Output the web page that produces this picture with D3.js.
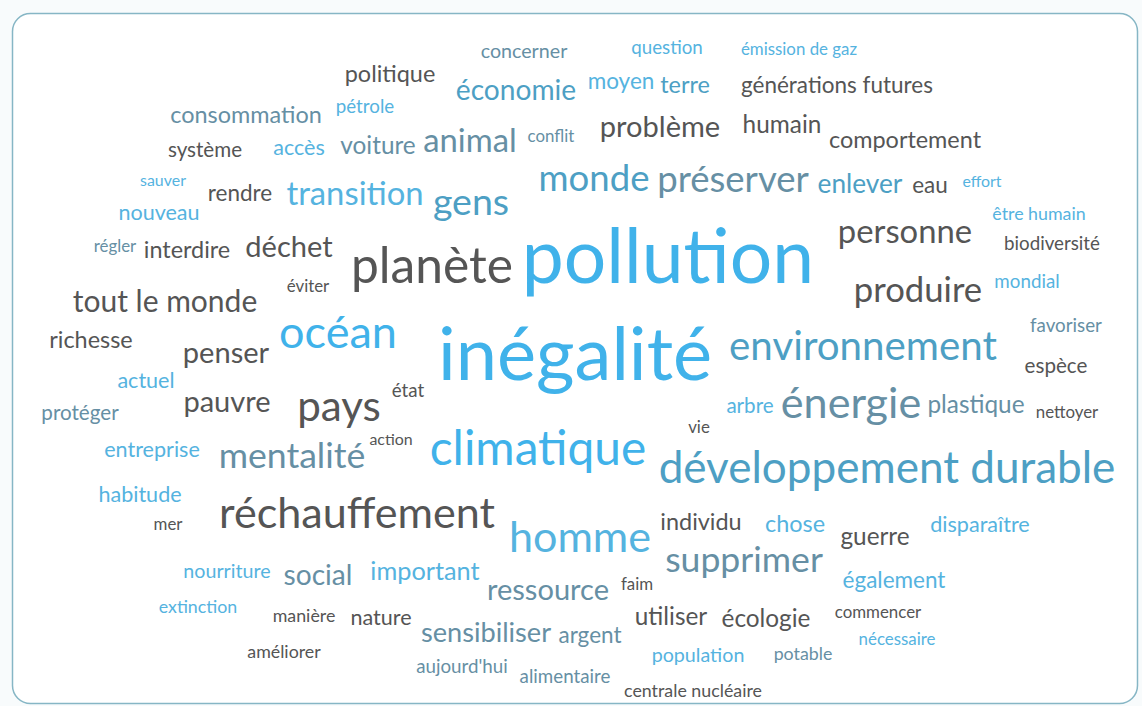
<!DOCTYPE html>
<html>
<head>
<meta charset="utf-8">
<script src="https://cdn.jsdelivr.net/npm/d3@7"></script>
<style>
  body { margin: 0; background: #f8fbfc; }
  #cloud text { font-family: Lato, "Open Sans", sans-serif; }
</style>
</head>
<body>
<div id="cloud"></div>
<script>

// ------------------------------------------------------------------------ //
// DATA
// ------------------------------------------------------------------------ //

// the words, how often they were cited, and their colour group
var words = ["concerner","question","émission de gaz","politique","économie","moyen","terre","générations futures",
  "consommation","pétrole","système","accès","voiture","animal","conflit","problème","humain","comportement",
  "sauver","rendre","transition","gens","monde","préserver","enlever","eau","effort","nouveau","être humain",
  "régler","interdire","déchet","planète","pollution","personne","biodiversité","éviter","tout le monde","produire",
  "mondial","richesse","océan","penser","inégalité","environnement","espèce","favoriser","actuel","pauvre","pays",
  "état","protéger","arbre","énergie","plastique","nettoyer","entreprise","mentalité","action","climatique","vie",
  "développement durable","habitude","mer","réchauffement","homme","individu","chose","guerre","disparaître",
  "nourriture","social","important","ressource","faim","supprimer","également","extinction","manière","nature",
  "sensibiliser","argent","utiliser","écologie","commencer","nécessaire","potable","population","améliorer",
  "aujourd'hui","alimentaire","centrale nucléaire"]

var counts = [21,20,18,25,30,24,25,24,
  25,20,22,23,26,35,18,31,26,25,
  17,24,35,40,39,39,28,24,17,23,19,
  18,25,31,53,80,35,20,18,32,37,
  20,25,48,31,79,43,22,20,23,31,45,
  20,22,22,46,26,18,23,38,17,51,18,
  47,23,18,46,46,25,25,26,23,
  21,30,27,31,18,38,24,19,19,23,
  29,24,26,26,18,18,19,21,19,
  20,20,19]

var groups = ["steel","sky","sky","gray","teal","sky","teal","gray",
  "steel","sky","gray","sky","steel","steel","steel","gray","gray","gray",
  "sky","gray","sky","teal","teal","steel","teal","gray","sky","sky","sky",
  "steel","gray","gray","gray","bright","gray","gray","gray","gray","gray",
  "sky","gray","bright","gray","bright","teal","gray","steel","sky","gray","gray",
  "gray","steel","sky","steel","steel","gray","sky","steel","gray","bright","gray",
  "teal","sky","gray","gray","sky","gray","sky","gray","sky",
  "sky","steel","sky","steel","gray","steel","sky","sky","gray","gray",
  "steel","steel","gray","gray","gray","sky","steel","sky","gray",
  "steel","steel","gray"]

// where the cloud layout put each word (centre, baseline), in layout units
var layoutX = [524,667,799,390,516,621,685,837,
  246,365,205,299,378,470,551,660,782,905,
  163,240,355,471,594,733,860,930,982,159,1039,
  115,187,289,432,668,905,1052,308,165,918,
  1027,91,338,226,575,863,1056,1066,146,227,339,
  408,80,750,851,976,1067,152,292,391,538,699,
  887,140,168,357,580,701,795,875,980,
  227,318,425,548,637,744,894,198,304,381,
  486,590,671,766,878,897,803,698,284,
  462,565,693]

var layoutY = [58,54,55,82,100,89,93,93,
  123,113,157,155,154,152,142,137,133,148,
  186,201,205,215,191,192,193,193,187,220,220,
  252,258,257,283,283,243,250,292,312,302,
  288,348,348,363,380,360,373,332,388,412,421,
  397,420,413,418,413,418,457,468,445,465,433,
  483,502,530,528,552,530,532,545,532,
  578,585,580,600,590,572,588,613,622,625,
  642,643,625,627,618,645,660,662,658,
  673,683,697]

var groupNames = ["gray","steel","teal","sky","bright"]
var groupColors = ["#555555","#668fa4","#4d9fc4","#55b3df","#40b2ea"]

var data = words.map(function(w, i) {
  return {text: w, count: counts[i], group: groups[i], lx: layoutX[i], ly: layoutY[i]}
})


// ------------------------------------------------------------------------ //
// SVG AREA
// ------------------------------------------------------------------------ //

var width = 1142,
  height = 706;

var svg = d3.select("#cloud")
.append("svg")
  .attr("width", width)
  .attr("height", height)

// rounded frame
svg.append("rect")
  .attr("x", 12.5)
  .attr("y", 13.5)
  .attr("width", 1125)
  .attr("height", 690)
  .attr("rx", 18)
  .style("fill", "#ffffff")
  .style("stroke", "#86b6c5")
  .style("stroke-width", 1.5)


// ------------------------------------------------------------------------ //
// SCALES
// ------------------------------------------------------------------------ //

var x = d3.scaleLinear().domain([0, 1142]).range([0, width])
var y = d3.scaleLinear().domain([0, 706]).range([0, height])

// font size grows with the count
var size = d3.scaleLinear().domain([0, 80]).range([0, 75])

var color = d3.scaleOrdinal().domain(groupNames).range(groupColors)


// ------------------------------------------------------------------------ //
// WORDS
// ------------------------------------------------------------------------ //

svg.selectAll(".word")
  .data(data)
  .enter()
  .append("text")
    .attr("class", "word")
    .attr("text-anchor", "middle")
    .attr("x", function(d) { return x(d.lx) })
    .attr("y", function(d) { return y(d.ly) })
    .style("font-size", function(d) { return size(d.count) + "px" })
    .style("fill", function(d) { return color(d.group) })
    .text(function(d) { return d.text })

</script>
</body>
</html>
